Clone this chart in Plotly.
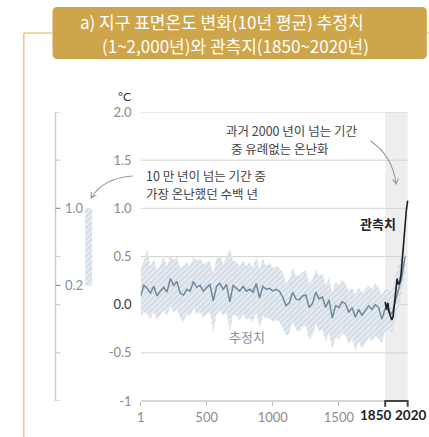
import plotly.graph_objects as go

# ---------------- data ----------------
years = [1] + list(range(25, 2001, 25))
recon = [0.09, 0.20, 0.17, 0.12, 0.19, 0.09, 0.14, 0.18, 0.13, 0.27,
         0.20, 0.24, 0.12, 0.10, 0.16, 0.14, 0.24, 0.18, 0.20, 0.14,
         0.18, 0.21, 0.04, 0.19, 0.22, 0.16, 0.21, 0.03, 0.20, 0.17,
         0.14, 0.19, 0.14, 0.16, 0.13, 0.22, 0.07, 0.19, 0.16, 0.17,
         0.14, 0.16, 0.14, 0.08, -0.01, 0.02, 0.13, 0.06, 0.05, 0.09,
         0.10, -0.03, 0.01, 0.13, 0.06, 0.08, -0.03, 0.05, -0.14, -0.01,
         -0.03, 0.03, 0.01, -0.08, -0.03, -0.13, -0.05, -0.11, -0.06, -0.01,
         -0.05, 0.00, -0.03, -0.15, -0.04, -0.06, -0.10, 0.02, 0.15, 0.28,
         0.50]
recon_hi = [0.38, 0.45, 0.58, 0.40, 0.48, 0.36, 0.42, 0.50, 0.40, 0.52,
            0.46, 0.50, 0.38, 0.40, 0.44, 0.40, 0.50, 0.46, 0.48, 0.42,
            0.44, 0.46, 0.32, 0.48, 0.52, 0.42, 0.50, 0.58, 0.46, 0.44,
            0.40, 0.46, 0.40, 0.44, 0.38, 0.50, 0.36, 0.48, 0.40, 0.44,
            0.38, 0.40, 0.38, 0.34, 0.22, 0.26, 0.38, 0.30, 0.30, 0.34,
            0.36, 0.22, 0.26, 0.36, 0.30, 0.32, 0.20, 0.28, 0.12, 0.24,
            0.20, 0.26, 0.22, 0.14, 0.18, 0.10, 0.18, 0.12, 0.16, 0.20,
            0.16, 0.22, 0.18, 0.10, 0.16, 0.16, 0.14, 0.30, 0.42, 0.52,
            0.65]
recon_lo = [-0.12, -0.08, -0.10, -0.14, -0.08, -0.16, -0.10, -0.06, -0.12, -0.02,
            -0.08, -0.04, -0.14, -0.18, -0.10, -0.12, -0.04, -0.10, -0.08, -0.14,
            -0.10, -0.08, -0.30, -0.10, -0.06, -0.12, -0.08, -0.28, -0.10, -0.12,
            -0.16, -0.10, -0.16, -0.14, -0.18, -0.08, -0.24, -0.12, -0.14, -0.14,
            -0.18, -0.16, -0.18, -0.24, -0.32, -0.30, -0.18, -0.26, -0.28, -0.24,
            -0.22, -0.36, -0.32, -0.20, -0.28, -0.26, -0.38, -0.30, -0.46, -0.34,
            -0.36, -0.30, -0.32, -0.42, -0.36, -0.48, -0.38, -0.46, -0.40, -0.34,
            -0.38, -0.32, -0.36, -0.40, -0.28, -0.26, -0.30, -0.16, -0.02, 0.10,
            0.30]
obs_years = list(range(1850, 2021, 10))
obs = [0.03, -0.05, 0.02, -0.08, -0.12, -0.16, -0.12, 0.02, 0.14, 0.27,
       0.21, 0.23, 0.32, 0.50, 0.66, 0.84, 0.98, 1.08]

x_ticks = [1, 500, 1000, 1500]
x_tick_text = ["1", "500", "1000", "1500"]
y_ticks = [-1, -0.5, 0, 0.5, 1, 1.5, 2]
y_tick_text = ["-1", "-0.5", '<span style="color:#333333">0.0</span>', "0.5", "1.0", "1.5", "2.0"]
grid_vals = [-0.5, 0, 0.5, 1, 1.5, 2]
obs_period = [1850, 2020]
inset_range = [0.2, 1.0]
inset_ticks = [-1, -0.5, 0, 0.5, 1.5, 2]

title1 = "a) 지구 표면온도 변화(10년 평균) 추정치"
title2 = "(1~2,000년)와 관측지(1850~2020년)"
note1 = ["과거 2000 년이 넘는 기간", "중 유례없는 온난화"]
note2 = ["10 만 년이 넘는 기간 중", "가장 온난했던 수백 년"]

# ---------------- layout helpers ----------------
W, H = 429, 437
L, R, T, B = 0, 20, 112, 36
PW, PH = W - L - R, H - T - B
def PX(x):
    return (x - L) / PW
def PY(y):
    return (H - B - y) / PH

FONT = "Lato, 'Noto Sans CJK KR', sans-serif"
KFONT = "'Noto Sans CJK KR', Lato, sans-serif"
BLUE = "#6f889b"
LBL = "#7d93a6"
GOLD = "#cfa54b"
GOLD_L = "#ecc98a"
HATCH = dict(shape="/", fgcolor="#afc0cd", bgcolor="#e5ebf0", size=4, solidity=0.3)

fig = go.Figure()

# uncertainty band
fig.add_trace(go.Scatter(x=years, y=recon_hi, mode="lines", line=dict(width=0, color="#c9d4dd"),
                         hoverinfo="skip", showlegend=False))
fig.add_trace(go.Scatter(x=years, y=recon_lo, mode="lines", line=dict(width=0, color="#c9d4dd"),
                         fill="tonexty", fillcolor="#e5ebf0", fillpattern=HATCH,
                         hoverinfo="skip", showlegend=False))
fig.add_trace(go.Scatter(x=years, y=recon, mode="lines", line=dict(width=1.5, color=BLUE),
                         showlegend=False))
fig.add_trace(go.Scatter(x=obs_years, y=obs, mode="lines", line=dict(width=1.6, color="#1e1e1e"),
                         showlegend=False))
# inset bar
fig.add_trace(go.Bar(x=[85.5], y=[inset_range[1] - inset_range[0]], base=[inset_range[0]], width=[7],
                     xaxis="x2", yaxis="y2", showlegend=False,
                     marker=dict(color="#e5ebf0", line=dict(width=0), pattern=HATCH)))

shapes = []
# observational period shading
shapes.append(dict(type="rect", xref="x", yref="paper", x0=obs_period[0], x1=obs_period[1], y0=0, y1=1,
                   fillcolor="#eeeeee", line=dict(width=0), layer="below"))
for v in grid_vals:
    shapes.append(dict(type="line", xref="x", yref="y", x0=1, x1=obs_period[1], y0=v, y1=v,
                       line=dict(color="#d4d4d4", width=1), layer="below"))
# x axis line + bracket
shapes.append(dict(type="line", xref="x", yref="paper", x0=1, x1=obs_period[0], y0=0, y1=0,
                   line=dict(color="#c8c8c8", width=1.5)))
shapes.append(dict(type="path", xref="x", yref="paper",
                   path=f"M {obs_period[0]},-0.02 L {obs_period[0]},0 L {obs_period[1]},0 L {obs_period[1]},-0.02",
                   line=dict(color="#444444", width=2)))
# inset axis
shapes.append(dict(type="line", xref="paper", yref="y", x0=PX(52), x1=PX(52), y0=-1, y1=2,
                   line=dict(color="#cccccc", width=1.5)))
for v in inset_ticks:
    shapes.append(dict(type="line", xref="paper", yref="y", x0=PX(52), x1=PX(57), y0=v, y1=v,
                       line=dict(color="#cccccc", width=1.2)))
for v in inset_range:
    shapes.append(dict(type="line", xref="paper", yref="y", x0=PX(52), x1=PX(57), y0=v, y1=v,
                       line=dict(color=LBL, width=1.2)))

# title box
def rrect(x0, y0, x1, y1, r):
    pts = [("M", x0 + r, y0), ("L", x1 - r, y0), ("Q", x1, y0, x1, y0 + r), ("L", x1, y1 - r),
           ("Q", x1, y1, x1 - r, y1), ("L", x0 + r, y1), ("Q", x0, y1, x0, y1 - r),
           ("L", x0, y0 + r), ("Q", x0, y0, x0 + r, y0)]
    s = ""
    for p in pts:
        if p[0] == "Q":
            s += f"Q {PX(p[1])},{PY(p[2])} {PX(p[3])},{PY(p[4])} "
        else:
            s += f"{p[0]} {PX(p[1])},{PY(p[2])} "
    return s + "Z"

shapes.append(dict(type="line", xref="paper", yref="paper", x0=PX(20), x1=PX(49), y0=PY(33), y1=PY(33),
                   line=dict(color=GOLD_L, width=1.5)))
shapes.append(dict(type="line", xref="paper", yref="paper", x0=PX(20), x1=PX(20), y0=PY(33), y1=PY(437),
                   line=dict(color=GOLD_L, width=1.5)))
shapes.append(dict(type="line", xref="paper", yref="paper", x0=PX(425), x1=PX(429), y0=PY(33), y1=PY(33),
                   line=dict(color=GOLD_L, width=1.5)))
shapes.append(dict(type="path", xref="paper", yref="paper", path=rrect(49, 7, 427, 59, 5),
                   fillcolor=GOLD, line=dict(width=0)))

# curved arrows
def curve(p0, c, p1, h1, h2):
    return (f"M {PX(p0[0])},{PY(p0[1])} Q {PX(c[0])},{PY(c[1])} {PX(p1[0])},{PY(p1[1])} "
            f"M {PX(h1[0])},{PY(h1[1])} L {PX(p1[0])},{PY(p1[1])} L {PX(h2[0])},{PY(h2[1])}")
shapes.append(dict(type="path", xref="paper", yref="paper",
                   path=curve((370, 141), (392, 155), (396, 184), (392.3, 179.3), (398.4, 178.4)),
                   line=dict(color="#9a9a9a", width=1.1)))
shapes.append(dict(type="path", xref="paper", yref="paper",
                   path=curve((130, 176), (100, 178), (88, 198), (93.3, 195.1), (88.1, 192)),
                   line=dict(color="#9a9a9a", width=1.1)))

ann = []
def A(text, x, y, size=12.5, color="#444444", xanchor="left", family=KFONT, **kw):
    ann.append(dict(text=text, x=PX(x), y=PY(y), xref="paper", yref="paper", showarrow=False,
                    xanchor=xanchor, yanchor="middle", font=dict(size=size, color=color, family=family), **kw))

A(title1, 75, 21.5, size=17, color="white")
A(title2, 97, 45.5, size=17, color="white")
A("°C", 122, 96, size=12, color="#333333", xanchor="center", family=FONT)
A(note1[0], 222, 130)
A(note1[1], 227, 148)
A(note2[0], 141, 175)
A(note2[1], 141, 193)
A("<b>관측치</b>", 378, 223, size=13, color="#222222", xanchor="center")
A("추정치", 245, 336, size=13, color=LBL, xanchor="center")
for v in inset_range:
    ann.append(dict(text=f"{v:.1f}", x=PX(60), y=v, xref="paper", yref="y", showarrow=False,
                    xanchor="left", yanchor="middle", font=dict(size=13, color=LBL, family=FONT)))
ann.append(dict(text=f"<b>{obs_period[0]}</b>", x=obs_period[0], xshift=-10, y=PY(415), xref="x", yref="paper",
                showarrow=False, xanchor="center", yanchor="middle", font=dict(size=13.5, color="#1e1e1e", family=FONT)))
ann.append(dict(text=f"<b>{obs_period[1]}</b>", x=obs_period[1], xshift=3, y=PY(415), xref="x", yref="paper",
                showarrow=False, xanchor="center", yanchor="middle", font=dict(size=13.5, color="#1e1e1e", family=FONT)))

fig.update_layout(
    width=W, height=H, margin=dict(l=L, r=R, t=T, b=B),
    paper_bgcolor="white", plot_bgcolor="rgba(0,0,0,0)",
    showlegend=False,
    xaxis=dict(domain=[138 / PW, 1], range=[1, 2030], tickvals=x_ticks, ticktext=x_tick_text,
               ticks="outside", ticklen=4, tickcolor="#c0c0c0", showgrid=False, zeroline=False,
               showline=False, tickfont=dict(family=FONT, size=13, color="#8c8c8c")),
    yaxis=dict(anchor="x", range=[-1, 2], tickvals=y_ticks, ticktext=y_tick_text, showgrid=False,
               zeroline=False, showline=False, ticks="", ticklabelstandoff=8,
               tickfont=dict(family=FONT, size=13, color="#8c8c8c")),
    xaxis2=dict(domain=[0, 0.3], range=[0, 0.3 * PW], visible=False, anchor="y2"),
    yaxis2=dict(anchor="x2", range=[-1, 2], visible=False),
    shapes=shapes, annotations=ann,
)
fig.write_html("out.html")
